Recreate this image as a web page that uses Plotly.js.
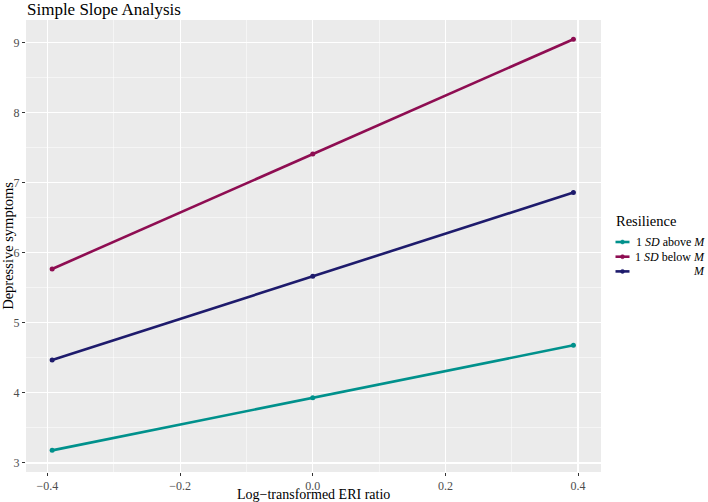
<!DOCTYPE html>
<html>
<head>
<meta charset="utf-8">
<script src="https://cdn.plot.ly/plotly-3.0.1.min.js"></script>
<style>html,body{margin:0;padding:0;background:#fff;}#chart{width:708px;height:502px;}</style>
</head>
<body>
<div id="chart"></div>
<script>
// Data
const eriRatio = [-0.393, 0.0, 0.393];
const aboveM = [3.18, 3.93, 4.68];   // 1 SD above M
const belowM = [5.77, 7.41, 9.05];   // 1 SD below M
const meanM  = [4.47, 5.665, 6.86];  // M
const seriesNames = ['1 <i>SD</i> above <i>M</i>', '1 <i>SD</i> below <i>M</i>', '<i>M</i>'];
const seriesColors = ['#00918C', '#8E0D52', '#1E1B6C'];
const legendTitle = 'Resilience';
const xTickVals = [-0.4, -0.2, 0.0, 0.2, 0.4];
const xTickText = ['\u22120.4', '\u22120.2', '0.0', '0.2', '0.4'];
const yTickVals = [3, 4, 5, 6, 7, 8, 9];

const font = 'Liberation Serif, Times New Roman, serif';
const W = 708, H = 502;
const M = {l: 26, r: 107, t: 20, b: 30};
const pw = W - M.l - M.r, ph = H - M.t - M.b;
const px2x = p => (p - M.l) / pw;
const py2y = p => (H - M.b - p) / ph;

const ys = [aboveM, belowM, meanM];
const traces = ys.map((y, i) => ({
  x: eriRatio, y: y, type: 'scatter', mode: 'lines+markers',
  name: seriesNames[i], showlegend: false,
  line: {color: seriesColors[i], width: 2.6},
  marker: {color: seriesColors[i], size: 5}
}));

// Manual ggplot-style legend
const annotations = [{
  text: legendTitle, xref: 'paper', yref: 'paper', x: px2x(614), y: py2y(221),
  xanchor: 'left', yanchor: 'middle', showarrow: false,
  font: {family: font, size: 14.5, color: '#000'}
}, {
  text: 'Log\u2212transformed ERI ratio', xref: 'paper', yref: 'paper', x: 0.5, y: py2y(494),
  xanchor: 'center', yanchor: 'middle', showarrow: false,
  font: {family: font, size: 14, color: '#000'}
}];
const shapes = [];
seriesNames.forEach((nm, i) => {
  const yc = py2y(242 + i * 14.7);
  annotations.push({
    text: nm, xref: 'paper', yref: 'paper', x: px2x(707), y: yc,
    xanchor: 'right', yanchor: 'middle', showarrow: false,
    font: {family: font, size: 12, color: '#000'}
  });
  shapes.push({type: 'line', xref: 'paper', yref: 'paper', x0: px2x(615.5), x1: px2x(629.5), y0: yc, y1: yc,
               line: {color: seriesColors[i], width: 2.6}});
  shapes.push({type: 'circle', xref: 'paper', yref: 'paper',
               x0: px2x(620.5), x1: px2x(624.5), y0: yc - 2 / ph, y1: yc + 2 / ph,
               fillcolor: seriesColors[i], line: {color: seriesColors[i], width: 0.5}});
});

const layout = {
  width: W, height: H,
  margin: M,
  paper_bgcolor: '#ffffff', plot_bgcolor: '#EBEBEB',
  font: {family: font, color: '#000'},
  title: {text: 'Simple Slope Analysis', font: {family: font, size: 17, color: '#000'},
          xref: 'container', x: 27 / W, xanchor: 'left', yref: 'container', y: 1 - 9 / H, yanchor: 'middle'},
  xaxis: {
    range: [-0.4324, 0.4346], tickvals: xTickVals, ticktext: xTickText,
    showgrid: true, gridcolor: '#FFFFFF', gridwidth: 1.1, zeroline: false,
    minor: {dtick: 0.1, tick0: 0, showgrid: true, gridcolor: '#FFFFFF', gridwidth: 0.5},
    ticks: 'outside', ticklen: 3, tickcolor: '#333333', tickwidth: 1,
    tickfont: {family: font, size: 12, color: '#4D4D4D'},
    showline: false, automargin: false
  },
  yaxis: {
    range: [2.871, 9.324], tickvals: yTickVals,
    showgrid: true, gridcolor: '#FFFFFF', gridwidth: 1.1, zeroline: false,
    minor: {dtick: 0.5, tick0: 0, showgrid: true, gridcolor: '#FFFFFF', gridwidth: 0.5},
    ticks: 'outside', ticklen: 3, tickcolor: '#333333', tickwidth: 1,
    tickfont: {family: font, size: 12, color: '#4D4D4D'},
    title: {text: 'Depressive symptoms', font: {family: font, size: 14.5, color: '#000'}, standoff: 4},
    showline: false, automargin: false
  },
  annotations: annotations,
  shapes: shapes,
  showlegend: false
};

Plotly.newPlot('chart', traces, layout, {displayModeBar: false, staticPlot: true});
</script>
</body>
</html>
